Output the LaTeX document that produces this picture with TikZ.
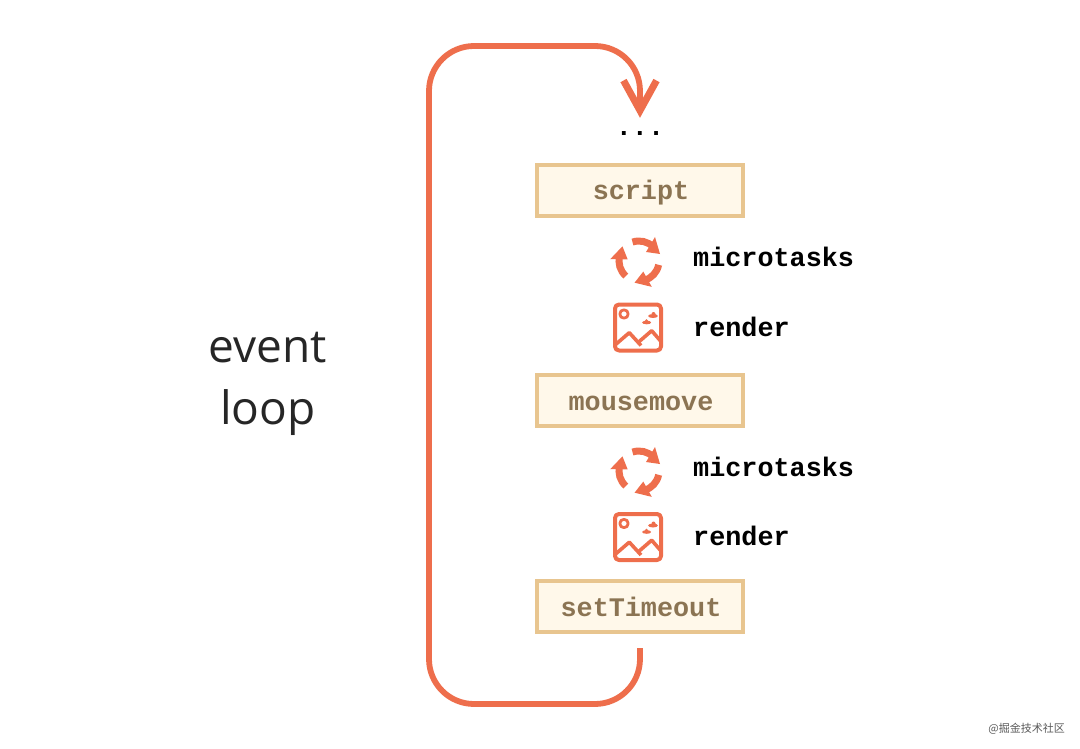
\documentclass[tikz,border=0pt]{standalone}
\usepackage{fontspec}
\setmonofont{Liberation Mono}
\newfontfamily\opensans{Open Sans}
\newfontfamily\cjk{Noto Sans CJK SC}
\usetikzlibrary{arrows.meta}
\usetikzlibrary{positioning}
\definecolor{loopcolor}{HTML}{EE6E4C}
\definecolor{boxfill}{HTML}{FFF8EA}
\definecolor{boxline}{HTML}{E8C58F}
\definecolor{boxtext}{HTML}{8B7453}

\begin{document}
\begin{tikzpicture}[x=1pt, y=1pt, node distance=155pt,
    task/.style={rectangle, draw=boxline, fill=boxfill, line width=4pt,
      minimum width=206pt, minimum height=51pt, inner sep=0pt, text=boxtext,
      text height=23pt, text depth=4pt, execute at begin node={\hspace*{2pt}},
      font=\fontsize{26.8}{30}\ttfamily\bfseries},
    label/.style={anchor=west, inner sep=0pt, text=black,
      font=\fontsize{26.8}{30}\ttfamily\bfseries},
    loopline/.style={draw=loopcolor, line width=5.8pt, rounded corners=45pt},
    iconline/.style={draw=loopcolor, line width=4pt, line join=round},
    cycleicon/.pic={
      \foreach \a in {0,-120,-240} {
        \begin{scope}[rotate=\a]
          \draw[draw=loopcolor, line width=7pt] (109:20) arc[start angle=109, end angle=45, radius=20];
          \fill[loopcolor] (16,24) -- (21,7) -- (7,9) -- cycle;
        \end{scope}
      }
    },
    rendericon/.pic={
      \draw[iconline, rounded corners=4pt] (-23,23) rectangle (23,-23);
      \draw[iconline, line width=2.8pt] (-14,13.5) circle (4.2);
      \draw[iconline, line width=3.6pt] (-23,-17.5) -- (-8.7,-5.2) -- (3,-18);
      \draw[iconline, line width=3.6pt] (1,-14.2) -- (13.7,-3.2) -- (23,-14);
      \fill[loopcolor] (15,11.5) ellipse (4.8 and 2) (15.5,13.5) circle (2);
      \fill[loopcolor] (8.7,5) ellipse (4.5 and 1.8) (8.5,6.5) circle (1.8);
    }]
  \useasboundingbox (0,0) rectangle (1080,-749);

  \node (dots) [label, anchor=center, minimum height=31pt] at (640,-133.5) {...};

  \node (script) [task] at (640,-190.5) {script};
  \node (mousemove) [task, below=155pt of script] {mousemove};
  \node (timeout) [task, below=151pt of mousemove] {setTimeout};

  \pic at (639,-261) {cycleicon};
  \pic at (638,-327.5) {rendericon};
  \pic at (639,-471) {cycleicon};
  \pic at (638,-537) {rendericon};

  \node (micro1) [label] at (693,-257) {microtasks};
  \node (render1) [label] at (693,-326.5) {render};
  \node (micro2) [label] at (693,-467) {microtasks};
  \node (render2) [label] at (693,-536) {render};

  \node (event) [font=\fontsize{46}{50}\opensans, text=black!85] at (268,-348) {event};
  \node (loop) [font=\fontsize{46}{50}\opensans, text=black!85] at (268,-413) {loop};

  % from the last task round to the dots
  \draw[loopline, shorten <=14pt, -{Straight Barb[length=30pt,width=33pt,line width=7pt 0 1]}]
    (timeout.south) -- (640,-704) -- (429,-704) -- (429,-46) -- (640,-46) -- (dots.north);

  \node (mark) [anchor=east, inner sep=0pt, text=black!65,
    font=\fontsize{11}{12}\cjk] at (1065,-729) {@掘金技术社区};
\end{tikzpicture}
\end{document}
